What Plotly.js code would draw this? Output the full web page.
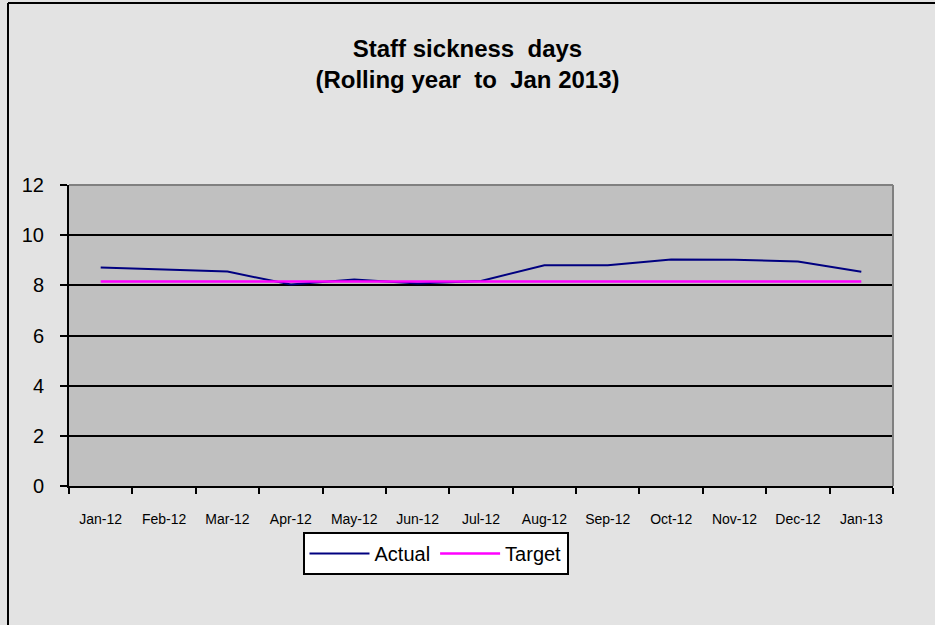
<!DOCTYPE html>
<html>
<head>
<meta charset="utf-8">
<script src="https://cdn.plot.ly/plotly-3.0.1.min.js"></script>
<style>
  html, body { margin: 0; padding: 0; background: #e3e3e3; }
  #chart { width: 935px; height: 625px; }
</style>
</head>
<body>
<div id="chart"></div>
<script>
// ---- data ----
const months = ["Jan-12", "Feb-12", "Mar-12", "Apr-12", "May-12", "Jun-12", "Jul-12",
                "Aug-12", "Sep-12", "Oct-12", "Nov-12", "Dec-12", "Jan-13"];
const actual = [8.71, 8.63, 8.55, 8.03, 8.23, 8.07, 8.17, 8.80, 8.80, 9.03, 9.02, 8.95, 8.54];
const target = [8.15, 8.15, 8.15, 8.15, 8.15, 8.15, 8.15, 8.15, 8.15, 8.15, 8.15, 8.15, 8.15];
const yTicks = [0, 2, 4, 6, 8, 10, 12];

const FONT = "Arial, 'Liberation Sans', sans-serif";

// plot-area geometry (pixels) used for paper-coordinate conversions
const L = 69, R = 893, T = 185, B = 486, W = 935, H = 625;
const px2x = p => (p - L) / (R - L);
const py2y = p => (B - p) / (B - T);

const traces = [
  {
    x: months, y: actual, name: "Actual", type: "scatter", mode: "lines",
    line: { color: "#000080", width: 2 }
  },
  {
    x: months, y: target, name: "Target", type: "scatter", mode: "lines",
    line: { color: "#ff00ff", width: 2.5 }
  }
];

const layout = {
  width: W, height: H,
  paper_bgcolor: "#e3e3e3",
  plot_bgcolor: "#c0c0c0",
  margin: { l: L, r: W - R, t: T, b: H - B, pad: 0 },
  font: { family: FONT, color: "#000000" },
  title: {
    text: "Staff sickness  days<br>(Rolling year  to  Jan 2013)",
    font: { family: FONT, size: 24, color: "#000000", weight: "bold" },
    x: 0.5, xref: "container", xanchor: "center",
    y: 1 - 57 / H, yref: "container", yanchor: "middle"
  },
  xaxis: {
    type: "category",
    range: [-0.5, months.length - 0.5],
    tickson: "boundaries",
    ticks: "outside", ticklen: 6, tickwidth: 2, tickcolor: "#000000",
    showgrid: false, zeroline: false,
    showline: true, linecolor: "#000000", linewidth: 2,
    tickfont: { family: FONT, size: 14, color: "#000000" },
    ticklabelstandoff: 19,
    fixedrange: true
  },
  yaxis: {
    range: [0, 12],
    tickvals: yTicks,
    ticktext: yTicks.map(String),
    ticks: "outside", ticklen: 7, tickwidth: 2, tickcolor: "#000000",
    showgrid: true, gridcolor: "#000000", gridwidth: 2,
    zeroline: false,
    showline: true, linecolor: "#000000", linewidth: 2,
    tickfont: { family: FONT, size: 20, color: "#000000" },
    ticklabelstandoff: 12,
    fixedrange: true
  },
  showlegend: true,
  legend: {
    orientation: "h",
    x: px2x(435.5), xanchor: "center",
    y: py2y(532), yanchor: "top",
    bgcolor: "#ffffff",
    bordercolor: "#000000", borderwidth: 2,
    font: { family: FONT, size: 20, color: "#000000" },
    itemwidth: 60
  },
  shapes: [
    // gray top and right border of the plot area
    { type: "line", xref: "paper", yref: "paper", x0: 0, x1: 1, y0: 1, y1: 1,
      line: { color: "#808080", width: 2 }, layer: "above" },
    { type: "line", xref: "paper", yref: "paper", x0: 1, x1: 1, y0: 0, y1: 1,
      line: { color: "#808080", width: 2 }, layer: "above" },
    // outer chart border (left and top)
    { type: "line", xref: "paper", yref: "paper",
      x0: px2x(8), x1: px2x(8), y0: py2y(3), y1: py2y(H + 5),
      line: { color: "#000000", width: 2 }, layer: "above" },
    { type: "line", xref: "paper", yref: "paper",
      x0: px2x(8), x1: px2x(W + 5), y0: py2y(3), y1: py2y(3),
      line: { color: "#000000", width: 2 }, layer: "above" }
  ]
};

Plotly.newPlot("chart", traces, layout, { displayModeBar: false, staticPlot: true });
</script>
</body>
</html>
